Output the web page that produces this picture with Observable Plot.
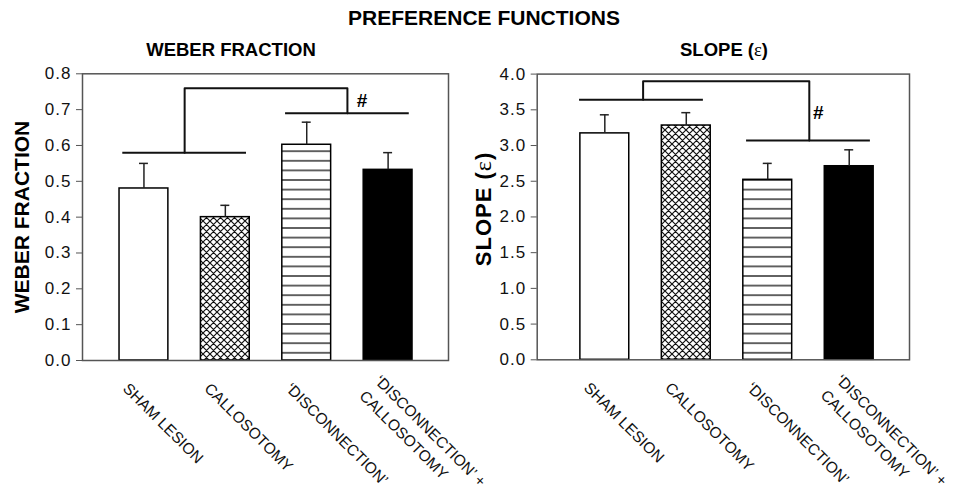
<!DOCTYPE html>
<html><head><meta charset="utf-8">
<script src="https://cdn.jsdelivr.net/npm/d3@7"></script>
<script src="https://cdn.jsdelivr.net/npm/@observablehq/plot@0.6"></script>
<style>
body{margin:0;background:#fff;}
#fig{position:relative;width:953px;height:494px;overflow:hidden;font-family:"Liberation Sans",Arial,sans-serif;color:#000;}
.t{position:absolute;font-weight:bold;white-space:nowrap;text-align:center;line-height:1;}
.panel{position:absolute;top:60px;}
.ylab{position:absolute;font-weight:bold;white-space:nowrap;line-height:1;transform:translate(-50%,-50%) rotate(-90deg);}
.eps{font-family:"Liberation Serif","DejaVu Serif",serif;font-weight:normal;}
</style></head><body>
<div id="fig">
<svg width="0" height="0" style="position:absolute;left:0;top:0"><defs>
<pattern id="xhatch" patternUnits="userSpaceOnUse" width="7" height="7">
<rect width="7" height="7" fill="#fff"/>
<path d="M0,0L7,7M7,0L0,7M-1,6L1,8M6,-1L8,1M-1,1L1,-1M6,8L8,6" stroke="#111" stroke-width="1.2" fill="none"/>
</pattern>
<pattern id="hlines" patternUnits="userSpaceOnUse" width="10" height="9.6">
<rect width="10" height="9.6" fill="#fff"/>
<path d="M0,4.8H10" stroke="#111" stroke-width="1.3"/>
</pattern>
</defs></svg>
<div class="t" style="left:284px;width:400px;top:7px;font-size:21px;">PREFERENCE FUNCTIONS</div>
<div class="t" style="left:31px;width:400px;top:41px;font-size:18.5px;">WEBER FRACTION</div>
<div class="t" style="left:524px;width:400px;top:41px;font-size:18.5px;">SLOPE (<span class="eps">ε</span>)</div>
<div class="ylab" style="left:20.5px;top:216.5px;font-size:21px;">WEBER FRACTION</div>
<div class="ylab" style="left:482.5px;top:209px;font-size:22px;letter-spacing:1px;">SLOPE (<span class="eps" style="font-size:24px">ε</span>)</div>
<div class="panel" id="left" style="left:0px;"></div>
<div class="panel" id="right" style="left:476px;"></div>
</div>
<script>
// ---- data ----
const groups = ["SHAM LESION", "CALLOSOTOMY", "‘DISCONNECTION’", "‘DISCONNECTION’ +\nCALLOSOTOMY"];
const groupPos = [1, 2, 3, 4];

const weberMean = [0.48, 0.40, 0.602, 0.532];
const weberSE   = [0.07, 0.033, 0.063, 0.048];
const weberTicks = [0, 0.1, 0.2, 0.3, 0.4, 0.5, 0.6, 0.7, 0.8];

const slopeMean = [3.17, 3.28, 2.52, 2.71];
const slopeSE   = [0.26, 0.18, 0.23, 0.23];
const slopeTicks = [0, 0.5, 1, 1.5, 2, 2.5, 3, 3.5, 4];

// significance brackets (group position, value)
const weberBracketLow = [{x1: 0.74, x2: 2.26, y: 0.58}, {x1: 2.74, x2: 4.26, y: 0.69}];
const weberBracketTop = [{x: 1.5, y: 0.58}, {x: 1.5, y: 0.76}, {x: 3.5, y: 0.76}, {x: 3.5, y: 0.69}];
const weberHash = [{x: 3.68, y: 0.725, label: "#"}];

const slopeBracketLow = [{x1: 0.69, x2: 2.21, y: 3.64}, {x1: 2.74, x2: 4.26, y: 3.07}];
const slopeBracketTop = [{x: 1.47, y: 3.64}, {x: 1.47, y: 3.90}, {x: 3.51, y: 3.90}, {x: 3.51, y: 3.07}];
const slopeHash = [{x: 3.62, y: 3.46, label: "#"}];

// ---- styles ----
const barFill = ["#fff", "url(#xhatch)", "url(#hlines)", "#000"];
const FONT = "'Liberation Sans', Arial, sans-serif";

function panel(o) {
  const rows = groups.map((g, i) => ({g, i, pos: groupPos[i], mean: o.means[i], top: o.means[i] + o.ses[i]}));
  const svg = Plot.plot({
    width: o.width, height: 434,
    marginLeft: o.ml, marginRight: o.mr, marginTop: o.mt, marginBottom: o.mb,
    x: {domain: o.xDomain, axis: null},
    y: {domain: o.yDomain, axis: null},
    color: {type: "identity"},
    style: {fontFamily: FONT, fontSize: "17px", color: "#000", background: "transparent", overflow: "visible"},
    marks: [
      Plot.rect(rows, {x1: d => d.pos - 0.3, x2: d => d.pos + 0.3, y1: 0, y2: "mean", fill: d => barFill[d.i], stroke: "#000", strokeWidth: 1.5}),
      Plot.ruleX(rows, {x: "pos", y1: "mean", y2: "top", stroke: "#222", strokeWidth: 1.5}),
      Plot.ruleY(rows, {y: "top", x1: d => d.pos - 0.055, x2: d => d.pos + 0.055, stroke: "#222", strokeWidth: 1.5}),
      Plot.ruleY(o.low, {x1: "x1", x2: "x2", y: "y", stroke: "#111", strokeWidth: 2}),
      Plot.line(o.top, {x: "x", y: "y", stroke: "#111", strokeWidth: 2}),
      Plot.text(o.hash, {x: "x", y: "y", text: "label", fontWeight: "bold", fontSize: 19, fill: "#000"}),
      Plot.frame({stroke: "#555", strokeWidth: 1.5}),
      Plot.axisY({ticks: o.ticks, tickFormat: ".1f", tickSize: 6, tickPadding: 5, label: null, fontSize: 17, stroke: "#555", fill: "#111"}),
      Plot.text(rows, {x: "pos", text: "g", frameAnchor: "bottom", rotate: 45, textAnchor: "start", lineAnchor: "middle", lineHeight: 1.4, dx: -17, dy: 24, fontSize: 15.5, fill: "#111"})
    ]
  });
  d3.select(svg).selectAll('[aria-label="y-axis tick label"] text').style("letter-spacing", "1px");
  return svg;
}

document.getElementById("left").appendChild(panel({
  width: 476, ml: 82, mr: 28, mt: 13.3, mb: 134,
  xDomain: [0.245, 4.742], yDomain: [0, 0.8],
  means: weberMean, ses: weberSE, ticks: weberTicks,
  low: weberBracketLow, top: weberBracketTop, hash: weberHash
}));
document.getElementById("right").appendChild(panel({
  width: 477, ml: 60.7, mr: 44, mt: 13.6, mb: 134.7,
  xDomain: [0.17, 4.74], yDomain: [0, 4],
  means: slopeMean, ses: slopeSE, ticks: slopeTicks,
  low: slopeBracketLow, top: slopeBracketTop, hash: slopeHash
}));
</script>
</body></html>
